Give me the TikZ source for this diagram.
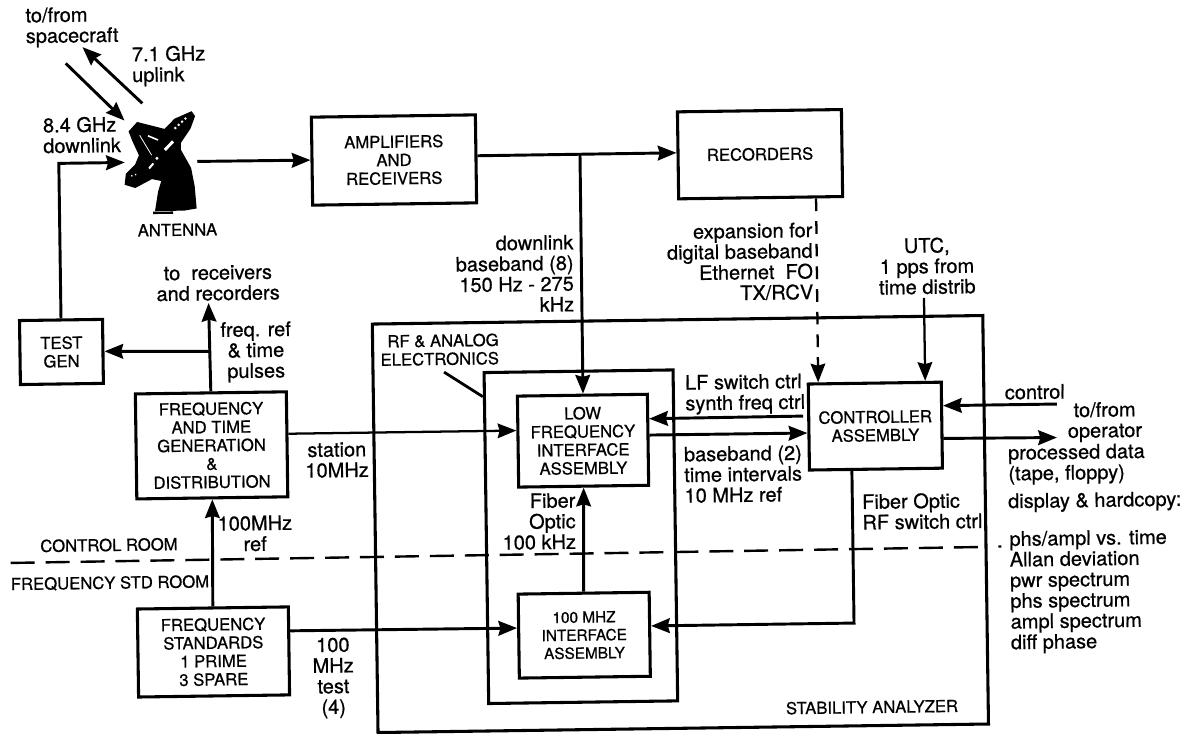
\documentclass[tikz,border=0pt]{standalone}
\usepackage{fontspec}
\setmainfont{TeX Gyre Heros}[FakeBold=0.7]
\usetikzlibrary{arrows.meta}
\newcommand{\capsfont}{\fontsize{12.5}{13.75}\selectfont}
\newcommand{\capssmall}{\fontsize{11.5}{13.5}\selectfont}
\newcommand{\notefont}{\fontsize{15}{15.5}\selectfont}

\begin{document}
\begin{tikzpicture}[x=0.75pt,y=-0.75pt,font=\notefont,
      panel/.style={draw,line width=2.3pt,inner sep=0pt,align=center,font=\capsfont},
      note/.style={inner sep=0pt,align=center,font=\notefont},
      capnote/.style={inner sep=0pt,align=center,font=\capsfont},
      arr/.style={-{Stealth[length=14pt,width=11pt,inset=1.5pt]},line width=2.2pt},
      thin arr/.style={-{Stealth[length=14pt,width=11pt,inset=1.5pt]},line width=1.7pt},
      wire/.style={line width=2.1pt}]

  \useasboundingbox (0,0) rectangle (1192,734);

  \begin{scope}[rotate around={0.8:(596,367)},transform shape]

    \node[panel,minimum width=457.9pt,minimum height=306.4pt] (analyzer) at (678.2,525.2) {};
    \node[panel,minimum width=141.75pt,minimum height=248.25pt] (rfbox) at (578.5,536.5) {};

    \node[panel,minimum width=123pt,minimum height=66pt] (amps) at (396.9,157.2)
      {AMPLIFIERS\\AND\\RECEIVERS};
    \node[panel,minimum width=123pt,minimum height=65.25pt] (recorders) at (763,156.5) {RECORDERS};
    \node[panel,minimum width=62.25pt,minimum height=48pt] (testgen) at (61.7,344.5) {TEST\\GEN};
    \node[panel,minimum width=113.25pt,minimum height=78.75pt] (freqgen) at (210.5,440)
      {FREQUENCY\\AND TIME\\GENERATION\\\&\\DISTRIBUTION};
    \node[panel,minimum width=113.25pt,minimum height=66pt] (freqstd) at (209.5,646.6)
      {FREQUENCY\\STANDARDS\\1 PRIME\\3 SPARE};
    \node[panel,minimum width=97.5pt,minimum height=68.25pt] (lowfreq) at (582,440.5)
      {LOW\\FREQUENCY\\INTERFACE\\ASSEMBLY};
    \node[panel,font=\capssmall,minimum width=98.25pt,minimum height=63pt] (mhzbox) at (580.5,635)
      {100 MHZ\\INTERFACE\\ASSEMBLY};
    \node[panel,minimum width=99.75pt,minimum height=64.5pt] (controller) at (874.5,430)
      {CONTROLLER\\ASSEMBLY};

    \node[minimum width=52.5pt,minimum height=75pt,inner sep=0pt] (antenna) at (162.9,155.9) {};
    \begin{scope}[shift={(117.9,98.9)},scale=1/3]
      \fill (42,78) -- (68,50) -- (150,72) -- (180,42) -- (232,20) -- (242,35) -- (228,72)
        -- (198,115) -- (198,135) -- (228,190) -- (238,245) -- (243,312) -- (205,318)
        -- (118,318) -- (128,260) -- (138,228) -- (110,222) -- (60,248) -- (28,238)
        -- (32,205) -- (60,178) -- (72,150) -- (52,105) -- cycle;
      \fill (112,320) rectangle (172,327);
      \draw[white,line width=0.6pt] (75,90) -- (110,150);
      \draw[white,line width=1.2pt] (100,92) -- (130,105);
      \draw[white,line width=2.2pt] (150,135) -- (175,110);
      \draw[white,line width=1.5pt,dotted] (180,72) -- (215,40);
      \draw[white,line width=1.5pt] (102,190) -- (115,175);
      \fill[white] (126,160) circle (5);
      \draw[white,line width=1pt,dotted] (48,212) -- (70,205);
    \end{scope}

    \coordinate (upFrom) at (146,97);
    \coordinate (upTo) at (87,40);
    \coordinate (downFrom) at (70,56);
    \coordinate (downTo) at (128,114);
    \coordinate (testCorner) at (61.7,155.9);
    \coordinate (refTip) at (209.5,297.6);
    \coordinate (refTee) at (209.5,346);
    \coordinate (ddTee) at (583,154.2);
    \coordinate (utcTop) at (925,302.6);
    \coordinate (rfCorner) at (850.5,626.7);
    \coordinate (rfStart) at (444,370);
    \coordinate (ctrlIn) at (1056.5,410.5);
    \coordinate (opOut) at (1056,444);
    \coordinate (roomLeft) at (8,554.8);
    \coordinate (roomRight) at (984,552.4);
    \coordinate (roomMarkA) at (996,552.2);
    \coordinate (roomMarkB) at (999,552.2);

    \draw[arr] (upFrom) -- (upTo);
    \draw[arr] (downFrom) -- (downTo);
    \draw[arr] (testgen.north) -- (testCorner) -- (antenna.west);
    \draw[arr] ([xshift=1.5pt]antenna.east) -- ([yshift=0.8pt]amps.west);
    \draw[arr] ([yshift=2.3pt]amps.east) -- ([yshift=1.9pt]recorders.west);
    \draw[arr] (ddTee) -- ([xshift=0.5pt]lowfreq.north);
    \draw[arr] (freqgen.north) -- (refTip);
    \draw[arr] (refTee) -- (testgen.east);
    \draw[arr] (freqstd.north) -- (freqgen.south);
    \draw[thin arr] ([yshift=7.9pt]freqgen.east) -- ([yshift=8.25pt]lowfreq.west);
    \draw[arr] ([yshift=15pt]freqstd.east) -- ([yshift=6pt]mhzbox.west);
    \draw[arr] (mhzbox.north) -- (lowfreq.south);
    \draw[arr,shorten <=3pt] ([yshift=8.25pt]controller.west) -- ([yshift=15.75pt]lowfreq.east);
    \draw[arr] ([yshift=3.5pt]lowfreq.east) -- ([yshift=-4.5pt]controller.west);
    \draw[thin arr,dash pattern=on 9.5pt off 7.5pt] ([xshift=41.6pt]recorders.south) -- ([xshift=-42.4pt]controller.north);
    \draw[thin arr] (utcTop) -- ([xshift=37.9pt]controller.north);
    \draw[arr] ([xshift=-18pt]controller.south) -- (rfCorner) -- ([yshift=6.2pt]mhzbox.east);
    \draw[arr] (ctrlIn) -- ([yshift=14.6pt]controller.east);
    \draw[arr] ([yshift=-10pt]controller.east) -- (opOut);
    \draw[wire] (rfStart) -- ([yshift=106pt]rfbox.west);
    \draw[line width=1.8pt,dash pattern=on 18pt off 8.2pt] (roomLeft) -- (roomRight);
    \draw[line width=1.8pt] (roomMarkA) -- (roomMarkB);

    \node[note,align=left] (spacecraft) at (76.8,19.7) {to/from\\spacecraft};
    \node[note,align=left] (uplink) at (173,60) {7.1 GHz\\uplink};
    \node[note,align=left] (downlink) at (85.2,127.8) {8.4 GHz\\downlink};
    \node[capnote] (antennalab) at (179.4,224) {ANTENNA};
    \node[note] (rxrec) at (219.2,277.7) {to\ \ receivers\\and recorders};
    \node[note] (freqref) at (256.2,347.2) {freq. ref\\\& time\\pulses};
    \node[note] (station) at (335.7,456.4) {station\\10MHz};
    \node[note] (mhzref) at (252.7,528.7) {100MHz\\ref};
    \node[capnote] (ctrlroom) at (106.5,538.2) {CONTROL ROOM};
    \node[capnote] (stdroom) at (107,576.2) {FREQUENCY STD ROOM};
    \node[note] (mhztest) at (329,674.3) {100\\MHz\\test\\(4)};
    \node[note,align=right,anchor=east] (baseband) at (575.3,272.7)
      {downlink\\baseband (8)\\150 Hz - 275\\kHz};
    \node[note,align=right,anchor=east] (expansion) at (814.5,264)
      {expansion for\\digital baseband\\Ethernet\ \ FO\\TX/RCV};
    \node[note] (utc) at (928.4,270.6) {UTC,\\1 pps from\\time distrib};
    \node[capnote,align=right,anchor=east] (rflab) at (499.3,347.6) {RF \& ANALOG\\ELECTRONICS};
    \node[note,align=left,anchor=west] (lfctrl) at (684.6,396.2) {LF switch ctrl\\synth freq ctrl};
    \node[note,align=left,anchor=west] (bbctrl) at (682.5,476.2)
      {baseband (2)\\time intervals\\10 MHz ref};
    \node[note,align=right,anchor=east] (fiberlow) at (573.8,520.7) {Fiber\\Optic\\100 kHz};
    \node[note,align=left,anchor=west] (fiberrf) at (860,515.7) {Fiber Optic\\RF switch ctrl};
    \node[note] (control) at (1034.4,398) {control};
    \node[note] (operator) at (1104,429) {to/from\\operator};
    \node[note,align=left,anchor=west] (processed) at (1006.6,470.8) {processed data\\(tape, floppy)};
    \node[note,align=left,anchor=west] (display) at (1006,508.8) {display \& hardcopy:};
    \node[note,align=left,anchor=west] (plots) at (1006.8,598.3)
      {phs/ampl vs. time\\Allan deviation\\pwr spectrum\\phs spectrum\\ampl spectrum\\diff phase};
    \node[capnote] (analyzerlab) at (867.2,710.9) {STABILITY ANALYZER};

  \end{scope}
\end{tikzpicture}
\end{document}
